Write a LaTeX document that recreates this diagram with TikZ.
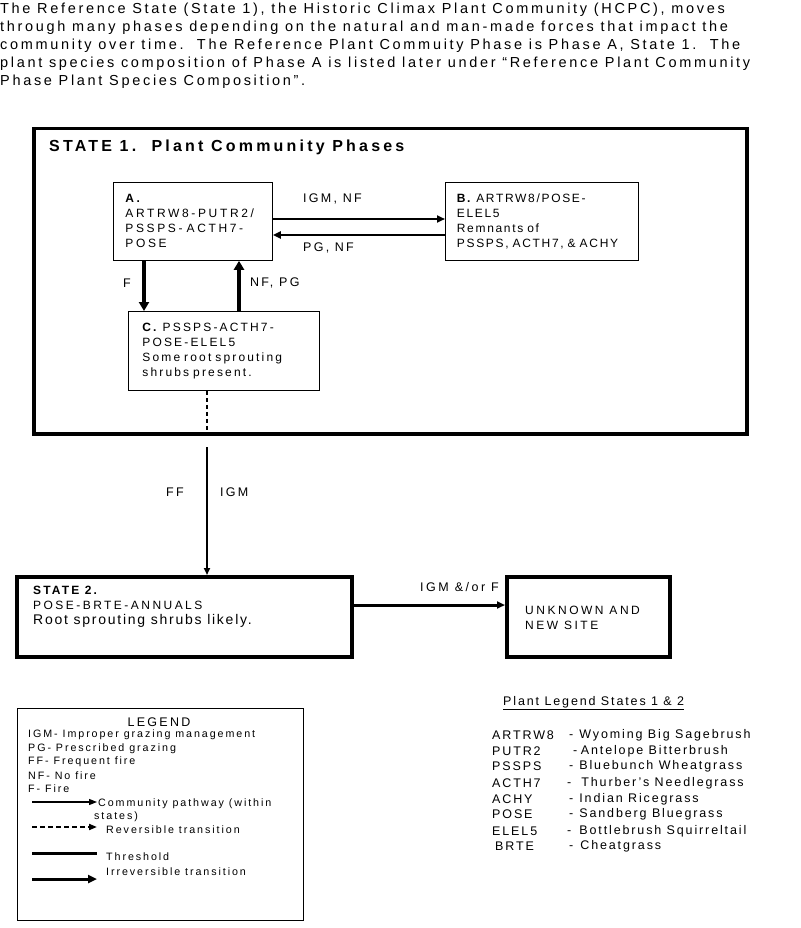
\documentclass[tikz,border=0pt]{standalone}
\usepackage{fontspec}
\setmainfont{Liberation Sans}[LetterSpace=18]
\usetikzlibrary{arrows.meta,positioning}

\newcommand\introfont{\fontsize{14.5}{18}\selectfont\addfontfeature{LetterSpace=18.5}}
\newcommand\boxfont{\fontsize{12}{15}\selectfont}
\newcommand\labfont{\fontsize{12.5}{14}\selectfont}
\newcommand\legfont{\fontsize{10.7}{13}\selectfont}
\newcommand\plantfont{\fontsize{12.5}{15}\selectfont\addfontfeature{LetterSpace=15}}

\tikzset{
  phasebox/.style={draw, line width=0.8pt, anchor=north west, align=left, inner ysep=0pt, font=\boxfont},
  statebox/.style={draw, line width=3.5pt, anchor=north west, inner sep=0pt},
  txt/.style={anchor=west, inner sep=0pt, align=left},
  pathway/.style={line width=2.2pt, -{Triangle[length=8pt,width=7pt]}},
  transition/.style={line width=2.2pt, -{Triangle[length=7pt,width=6pt]}}
}

\begin{document}
\begin{tikzpicture}
     [
     x=1pt, y=-1pt,
     every node/.style={inner sep=0pt}
     ]
     \useasboundingbox (0,0) rectangle (800,928);
     % introduction
     \node[anchor=north west, align=left, font=\introfont] (intro) at (0,2.5)
     {The Reference State (State 1), the Historic Climax Plant Community (HCPC), moves\\
     through many phases depending on the natural and man-made forces that impact the\\
     community over time.\ \ The Reference Plant Commuity Phase is Phase A, State 1.\ \ The\\
     plant species composition of Phase A is listed later under “Reference Plant Community\\
     Phase Plant Species Composition”.};

     % state 1 and its phases
     \node[statebox, minimum width=713pt, minimum height=305pt] (S1) at (32,127) {};
     \node[anchor=north west, font=\bfseries\fontsize{16}{18}\selectfont\addfontfeature{LetterSpace=20}] (S1title) at (49,140) {STATE 1.\ \ Plant Community Phases};
     \node[phasebox, minimum width=159pt, minimum height=78pt, text width=135pt, inner xsep=12pt, font=\boxfont\addfontfeature{LetterSpace=22}] (A) at (113,182)
     {\textbf{A.}\\ ARTRW8-PUTR2/\\ PSSPS- ACTH7-\\ POSE};
     \node[phasebox, minimum width=193pt, minimum height=78pt, text width=170pt, inner xsep=11.5pt, font=\boxfont\addfontfeature{LetterSpace=14}] (B) at (445,182)
     {\textbf{B.} ARTRW8/POSE-\\ ELEL5\\ Remnants of\\ PSSPS, ACTH7, \& ACHY};
     \node[phasebox, minimum width=191pt, minimum height=79pt, text width=163pt, inner xsep=14pt] (C) at (128,311)
     {\textbf{C.} PSSPS-ACTH7-\\ POSE-ELEL5\\ Some root sprouting\\ shrubs present.};

     \coordinate (ab) at (0,219);
     \coordinate (ba) at (0,235);
     \coordinate (fx) at (144,0);
     \coordinate (nfx) at (239,0);
     \draw[pathway] (A.east |- ab) -- (B.west |- ab);
     \draw[pathway] (B.west |- ba) -- (A.east |- ba);
     \draw[pathway, line width=3.5pt, -{Triangle[length=9pt,width=10pt]}] (A.south -| fx) -- (C.north -| fx);
     \draw[pathway, line width=3.5pt, -{Triangle[length=9pt,width=10pt]}] (C.north -| nfx) -- (A.south -| nfx);
     \node[txt, font=\labfont] (igmnf) at (303,199) {IGM, NF};
     \node[txt, font=\labfont] (pgnf) at (303,248) {PG, NF};
     \node[txt, font=\labfont] (flab) at (123,283) {F};
     \node[txt, font=\labfont] (nfpg) at (250,283) {NF, PG};

     % transitions
     \coordinate (ffx) at (207,447);
     \coordinate (su) at (0,605);
     \draw[line width=2.2pt, dash pattern=on 4pt off 3pt] (C.south -| ffx) -- (S1.south -| ffx);
     \node[statebox, minimum width=335pt, minimum height=80pt] (S2) at (15,575) {};
     \node[statebox, minimum width=163pt, minimum height=80pt] (U) at (505,575) {};
     \draw[transition] (ffx) -- (ffx |- S2.north);
     \draw[pathway, line width=3pt] (S2.east |- su) -- (U.west |- su);
     \node[txt, font=\labfont] (fflab) at (166,492) {FF};
     \node[txt, font=\labfont] (igmlab) at (220,492) {IGM};
     \node[txt, font=\labfont\addfontfeature{LetterSpace=20}] (igmf) at (420,587) {IGM \&/or F};

     % state 2 and unknown site
     \node[txt, font=\bfseries\fontsize{12}{14}\selectfont] (s2a) at (33,590) {STATE 2.};
     \node[txt, font=\fontsize{12}{14}\selectfont\addfontfeature{LetterSpace=20.5}] (s2b) at (33,605) {POSE-BRTE-ANNUALS};
     \node[txt, font=\fontsize{14}{16}\selectfont\addfontfeature{LetterSpace=12.5}] (s2c) at (33,621) {Root sprouting shrubs likely.};
     \node[txt, font=\fontsize{12}{15}\selectfont\addfontfeature{LetterSpace=21}] (utext) at (525,617.5) {UNKNOWN AND\\ NEW SITE};

     % legend
     \node[draw, line width=0.8pt, anchor=north west, minimum width=286pt, minimum height=212pt] (leg) at (17,708) {};
     \node[font=\labfont] (legtitle) at (159,722) {LEGEND};
     \node[txt, font=\legfont] (leg1) at (28,735) {IGM- Improper grazing management};
     \node[txt, font=\legfont] (leg2) at (28,749) {PG- Prescribed grazing};
     \node[txt, font=\legfont] (leg3) at (28,762) {FF- Frequent fire};
     \node[txt, font=\legfont] (leg4) at (28,776) {NF- No fire};
     \node[txt, font=\legfont] (leg5) at (28,789) {F- Fire};
     \coordinate (p1a) at (32,802);  \coordinate (p1b) at (97,802);
     \coordinate (p2a) at (32,827);  \coordinate (p2b) at (97,827);
     \coordinate (p3a) at (32,853);  \coordinate (p3b) at (97,853);
     \coordinate (p4a) at (32,879);  \coordinate (p4b) at (97,879);
     \draw[line width=1.2pt, -{Triangle[length=8pt,width=6pt]}] (p1a) -- (p1b);
     \draw[line width=1.8pt, dash pattern=on 5pt off 3pt, -{Triangle[length=8pt,width=6pt]}] (p2a) -- (p2b);
     \draw[line width=3pt] (p3a) -- (p3b);
     \draw[line width=3pt, -{Triangle[length=9pt,width=8pt]}] (p4a) -- (p4b);
     \node[txt, font=\legfont] (legp1) at (98,804) {Community pathway (within};
     \node[txt, font=\legfont] (legp1b) at (94,817) {states)};
     \node[txt, font=\legfont] (legp2) at (106,830) {Reversible transition};
     \node[txt, font=\legfont] (legp3) at (106,857) {Threshold};
     \node[txt, font=\legfont] (legp4) at (106,872) {Irreversible transition};

     % plant legend
     \node[txt, font=\plantfont] (ptitle) at (503,703) {\underline{Plant Legend States 1 \& 2}};
     \node[txt, font=\plantfont] (artrw) at (492,735) {ARTRW8};
     \node[txt, font=\plantfont] (putr) at (492,751) {PUTR2};
     \node[txt, font=\plantfont] (pssps) at (492,766) {PSSPS};
     \node[txt, font=\plantfont] (acth) at (492,783) {ACTH7};
     \node[txt, font=\plantfont] (achy) at (492,799) {ACHY};
     \node[txt, font=\plantfont] (pose) at (492,814) {POSE};
     \node[txt, font=\plantfont] (elel) at (492,831) {ELEL5};
     \node[txt, font=\plantfont] (brte) at (495,846) {BRTE};
     \node[txt, font=\plantfont] (artrwname) at (569,735) {-\hspace{6pt}Wyoming Big Sagebrush};
     \node[txt, font=\plantfont] (putrname) at (573,751) {-\hspace{3.5pt}Antelope Bitterbrush};
     \node[txt, font=\plantfont] (psspsname) at (569,766) {-\hspace{6pt}Bluebunch Wheatgrass};
     \node[txt, font=\plantfont] (acthname) at (567,783) {-\hspace{10pt}Thurber’s Needlegrass};
     \node[txt, font=\plantfont] (achyname) at (569,799) {-\hspace{6pt}Indian Ricegrass};
     \node[txt, font=\plantfont] (posename) at (569,814) {-\hspace{6pt}Sandberg Bluegrass};
     \node[txt, font=\plantfont] (elelname) at (567,831) {-\hspace{8pt}Bottlebrush Squirreltail};
     \node[txt, font=\plantfont] (brtename) at (569,846) {-\hspace{7pt}Cheatgrass};
\end{tikzpicture}
\end{document}
